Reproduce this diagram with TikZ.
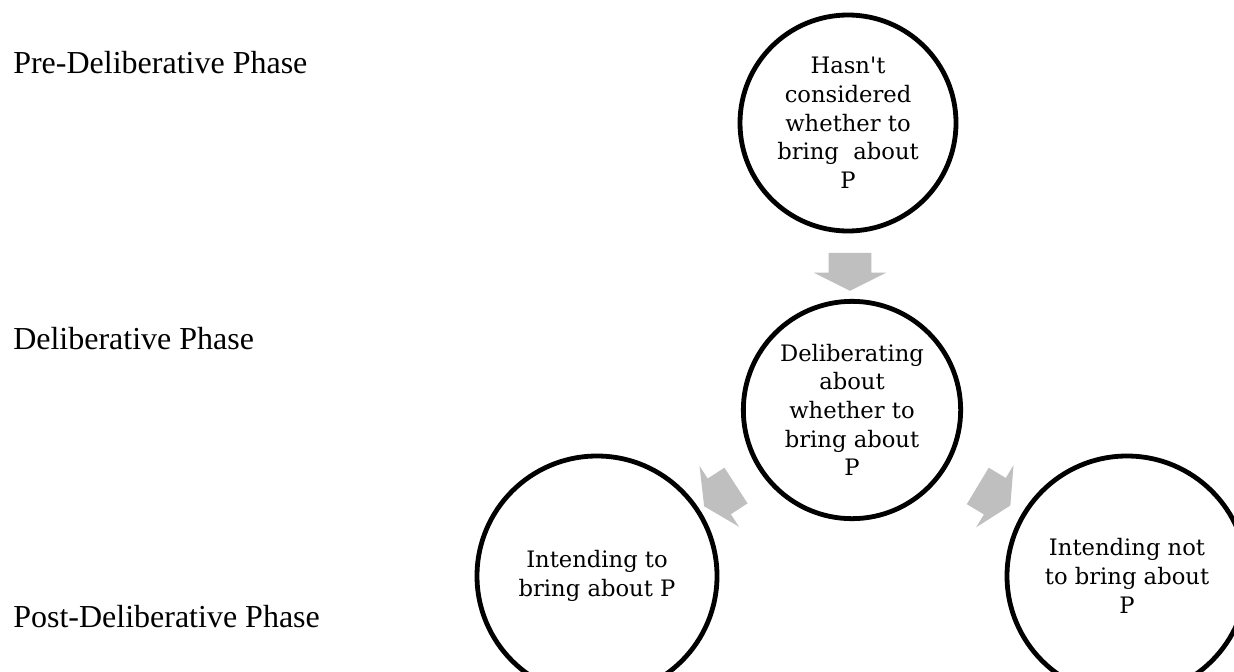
\documentclass[tikz,border=0pt]{standalone}
\usepackage{fontspec}
\setmainfont{Liberation Serif}
\newfontfamily\statefont{DejaVu Serif}
\usetikzlibrary{calc,shapes.arrows}
\definecolor{arrowgray}{RGB}{191,191,191}

\begin{document}
\begin{tikzpicture}[x=0.75pt, y=-0.75pt,
  phase/.style={anchor=base west, inner sep=0pt, font=\fontsize{24}{28}\selectfont},
  state/.style={draw, circle, line width=3.6pt, align=center, inner sep=0pt, font=\statefont\fontsize{17}{21.5}\selectfont},
  flow/.style={single arrow, fill=arrowgray, draw=none, inner xsep=0pt, inner ysep=15.75pt, minimum height=28.5pt, single arrow head extend=11.25pt, single arrow tip angle=127}]
  \clip (0,0) rectangle (1234,671);
  \node[phase] (pre) at (13,73) {Pre-Deliberative Phase};
  \node[phase] (delib) at (13,349) {Deliberative Phase};
  \node[phase] (post) at (13,627) {Post-Deliberative Phase};
  \node[state, minimum size=162pt] (idle) at (848,123) {Hasn\textquotesingle t\\considered\\whether to\\bring~ about\\P};
  \node[state, minimum size=163pt] (weigh) at (852,410) {Deliberating\\about\\whether to\\bring about\\P};
  \node[state, minimum size=180pt] (yes) at (597,576) {Intending to\\bring about P};
  \node[state, minimum size=180pt] (no) at (1127,576) {Intending not\\to bring about\\P};
  \node[flow, rotate=-90] (a1) at ($(idle)!0.5!(weigh)$) {};
  \node[flow, rotate=213] (a2) at ($(weigh)!0.5!(yes)$) {};
  \node[flow, rotate=-31] (a3) at ($(weigh)!0.5!(no)$) {};
\end{tikzpicture}
\end{document}
